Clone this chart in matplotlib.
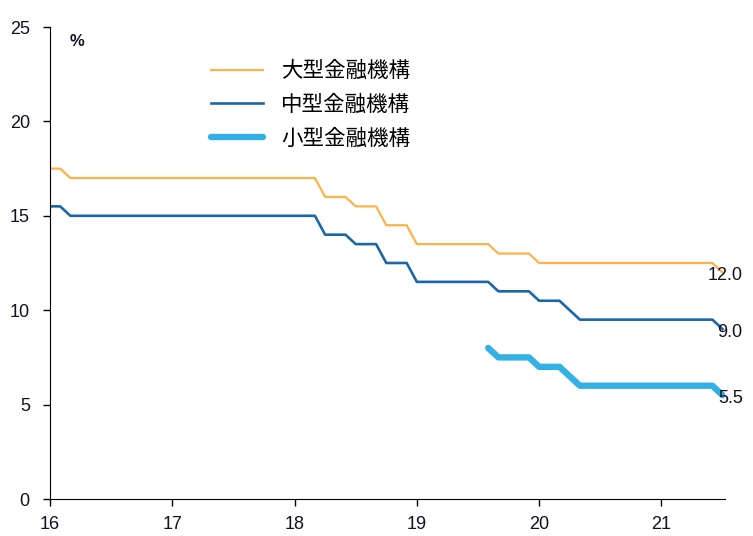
import numpy as np
import matplotlib
matplotlib.use("Agg")
import matplotlib.pyplot as plt

plt.rcParams['font.family'] = ['Liberation Sans', 'Noto Sans CJK JP', 'DejaVu Sans']

# monthly, Jan 2016 .. Jul 2021
large = [17.5, 17.5, 17.0, 17.0, 17.0, 17.0, 17.0, 17.0, 17.0, 17.0, 17.0, 17.0,
         17.0, 17.0, 17.0, 17.0, 17.0, 17.0, 17.0, 17.0, 17.0, 17.0, 17.0, 17.0,
         17.0, 17.0, 17.0, 16.0, 16.0, 16.0, 15.5, 15.5, 15.5, 14.5, 14.5, 14.5,
         13.5, 13.5, 13.5, 13.5, 13.5, 13.5, 13.5, 13.5, 13.0, 13.0, 13.0, 13.0,
         12.5, 12.5, 12.5, 12.5, 12.5, 12.5, 12.5, 12.5, 12.5, 12.5, 12.5, 12.5,
         12.5, 12.5, 12.5, 12.5, 12.5, 12.5, 12.0]
medium = [15.5, 15.5, 15.0, 15.0, 15.0, 15.0, 15.0, 15.0, 15.0, 15.0, 15.0, 15.0,
          15.0, 15.0, 15.0, 15.0, 15.0, 15.0, 15.0, 15.0, 15.0, 15.0, 15.0, 15.0,
          15.0, 15.0, 15.0, 14.0, 14.0, 14.0, 13.5, 13.5, 13.5, 12.5, 12.5, 12.5,
          11.5, 11.5, 11.5, 11.5, 11.5, 11.5, 11.5, 11.5, 11.0, 11.0, 11.0, 11.0,
          10.5, 10.5, 10.5, 10.0, 9.5, 9.5, 9.5, 9.5, 9.5, 9.5, 9.5, 9.5,
          9.5, 9.5, 9.5, 9.5, 9.5, 9.5, 9.0]
small = [np.nan] * 43 + [8.0, 7.5, 7.5, 7.5, 7.5,
         7.0, 7.0, 7.0, 6.5, 6.0, 6.0, 6.0, 6.0, 6.0, 6.0, 6.0, 6.0,
         6.0, 6.0, 6.0, 6.0, 6.0, 6.0, 5.5]
labels = ['大型金融機構', '中型金融機構', '小型金融機構']
end_labels = ['12.0', '9.0', '5.5']
xticks = [16, 17, 18, 19, 20, 21]
yticks = [0, 5, 10, 15, 20, 25]

x = 16 + np.arange(len(large)) / 12

fig = plt.figure(figsize=(7.53, 5.36), dpi=100)
ax = fig.add_axes([50/753, 1 - 499/536, (725-50)/753, (499-27)/536])

l1, = ax.plot(x, large, color='#FDB24A', lw=1.6)
l2, = ax.plot(x, medium, color='#1C67A8', lw=1.9)
l3, = ax.plot(x, small, color='#34B1E4', lw=4.6, solid_capstyle='round')

ax.set_xlim(16, 21.52)
ax.set_ylim(0, 25)
ax.set_xticks(xticks)
ax.set_yticks(yticks)
ax.spines['top'].set_visible(False)
ax.spines['right'].set_visible(False)
ax.tick_params(direction='out', length=5, width=1, labelsize=13, labelcolor='#111122')
ax.tick_params(axis='y', pad=9.5)
ax.tick_params(axis='x', pad=7)

# % unit label near the top of the y axis
fig.text(77/753, 1 - 41/536, '%', fontsize=12, fontweight='bold',
         va='center', ha='center', color='#111122')

for v, t in zip([large[-1], medium[-1], small[-1]], end_labels):
    ax.annotate(t, (x[-1], v), xytext=(14.5, -2.5), textcoords='offset points',
                ha='right', va='center', fontsize=13, color='#111122')

leg = ax.legend([l1, l2, l3], labels, loc='center left',
                bbox_to_anchor=(192/753, 1 - 105/536), bbox_transform=fig.transFigure,
                frameon=False, handlelength=2.4, handletextpad=0.85,
                labelspacing=0.55, prop={'family': ['Noto Sans CJK JP'], 'size': 15.5})

fig.savefig('out.png', dpi=100)
